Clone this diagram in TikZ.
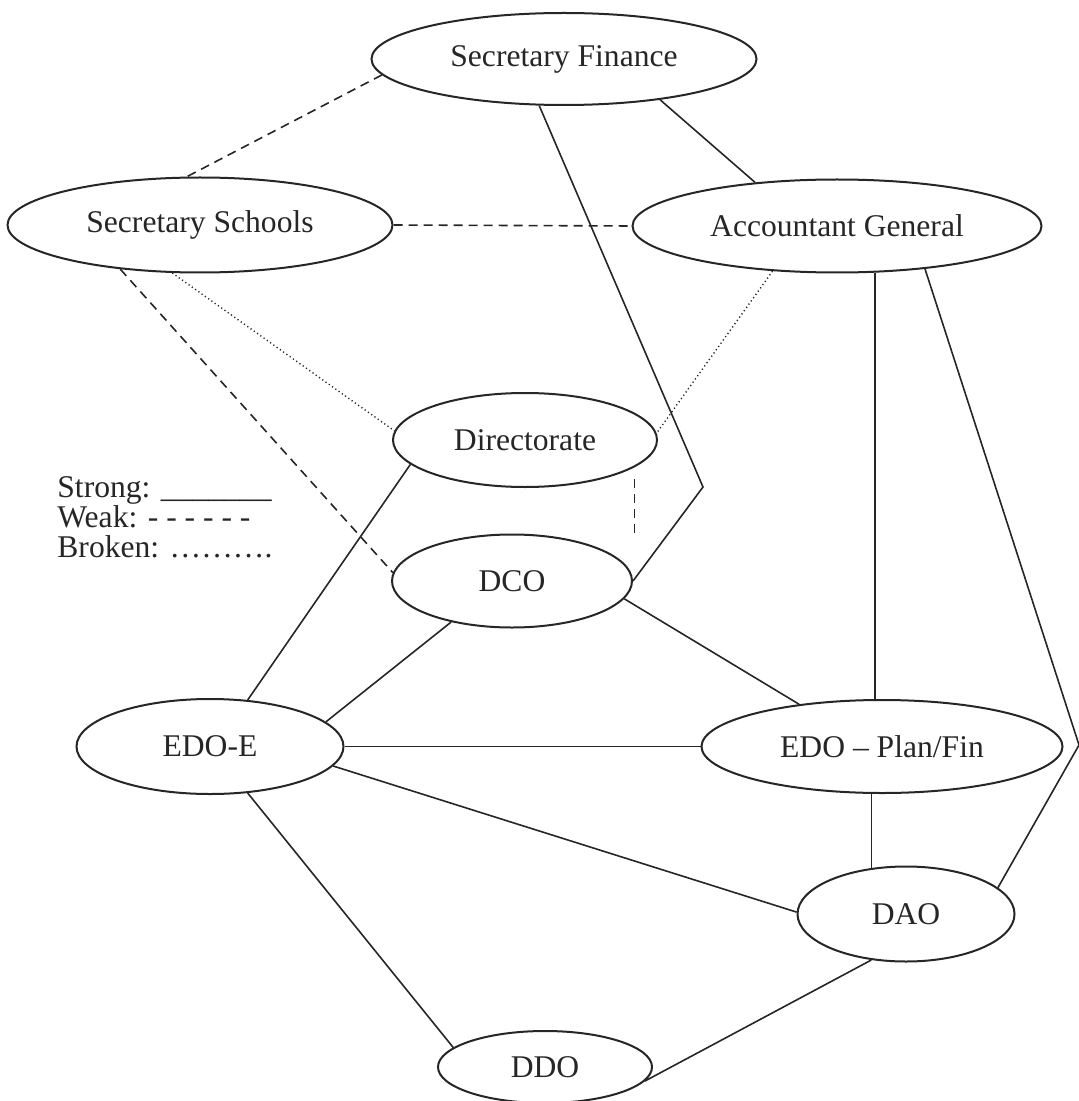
\documentclass[tikz,border=0pt]{standalone}
\usepackage{fontspec}
\setmainfont{Liberation Serif}
\usetikzlibrary{shapes.geometric}
\tikzset{
  office/.style={ellipse, draw=black!85, line width=1pt, inner sep=0pt, text=black!85, font=\fontsize{15.8}{19}\selectfont},
  strong/.style={draw=black!85, line width=0.8pt},
  weak/.style={draw=black!85, line width=0.8pt, dash pattern=on 4.5pt off 3pt},
  broken/.style={draw=black!85, line width=0.7pt, dash pattern=on 0.6pt off 1.4pt},
  legend/.style={anchor=base west, inner sep=0pt, text=black!85, font=\fontsize{15.8}{19}\selectfont},
}
\begin{document}
\begin{tikzpicture}[x=0.5pt,y=-0.5pt]
  \useasboundingbox (0,0) rectangle (1079,1101);

  %%%%% OFFICES %%%%%
  \node[office, minimum width=192.5pt, minimum height=46pt] (sf) at (564,59) {Secretary Finance};
  \node[office, minimum width=192.5pt, minimum height=47.5pt] (ss) at (200,225) {Secretary Schools};
  \node[office, minimum width=204.5pt, minimum height=46.5pt] (ag) at (837,226) {Accountant General};
  \node[office, minimum width=132pt, minimum height=47pt] (dir) at (525,440) {Directorate};
  \node[office, minimum width=120pt, minimum height=46.5pt] (dco) at (512,581) {DCO};
  \node[office, minimum width=133.5pt, minimum height=47.5pt] (edoe) at (210,746.5) {EDO-E};
  \node[office, minimum width=180.5pt, minimum height=46.5pt] (edop) at (882,746.5) {EDO -- Plan/Fin};
  \node[office, minimum width=108.5pt, minimum height=47.5pt] (dao) at (906,914) {DAO};
  \node[office, minimum width=107pt, minimum height=36pt] (ddo) at (545,1067) {DDO};

  %%%%% LEGEND %%%%%
  \node[legend] (kstrong) at (57,497) {Strong: \_\_\_\_\_\_\_};
  \node[legend] (kweak) at (57,527) {Weak: - - - - - -};
  \node[legend] (kbroken) at (57,557) {Broken: \ldots\ldots\ldots.};

  %%%%% LINKS %%%%%
  \coordinate (kinkA) at (703,487);
  \coordinate (kinkB) at (1079,745);

  \draw[weak] (sf.185) -- (ss.105);
  \draw[weak] (ss.east) -- (ag.west);
  \draw[weak] (ss.209) -- (dco.176);
  \draw[broken] (ss.240) -- (dir.176);
  \draw[broken] (ag.215) -- (dir.3);

  \draw[strong] (sf.-23) -- (ag.152);
  \draw[strong] (sf.242) -- (kinkA) -- (dco.east);
  \draw[strong] (ag.-51) -- (ag.-51 |- edop.north);
  \draw[strong] (ag.-26) -- (kinkB) -- (dao.16);

  \draw[strong] (dir.192) -- (edoe.51);
  \draw[weak] ([yshift=-6pt]dir.-14) -- (dir.-14 |- dco.north);
  \draw[strong] (dco.214) -- (edoe.12);
  \draw[strong] (dco.-9) -- (edop.153);

  \draw[strong] (edoe.east) -- (edop.west);
  \draw[strong] (edoe.-9) -- (dao.179);
  \draw[strong] (edop.south -| dao.127) -- (dao.127);
  \draw[strong] (edoe.-51) -- (ddo.168);
  \draw[strong] (dao.233) -- (ddo.-8);
\end{tikzpicture}
\end{document}
